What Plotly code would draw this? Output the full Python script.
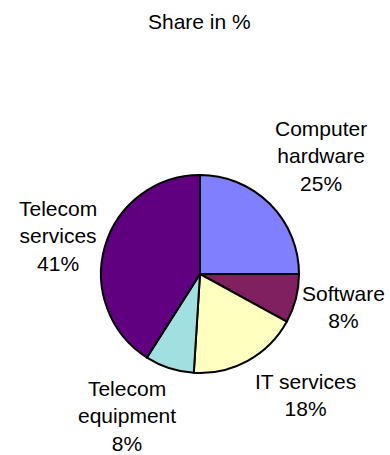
import plotly.graph_objects as go

# Market shares by segment, in percent
categories = ["Computer hardware", "Software", "IT services", "Telecom equipment", "Telecom services"]
label_lines = ["Computer<br>hardware", "Software", "IT services", "Telecom<br>equipment", "Telecom<br>services"]
shares = [25, 8, 18, 8, 41]
colors = ["#8080FF", "#802060", "#FFFFC0", "#A0E0E0", "#600080"]

W, H = 390, 455
FONT = "Arial, Liberation Sans, sans-serif"

# pie geometry in pixels
cx, cy, r = 200, 274, 99

# label block centres in pixels
label_pos = [(321, 156), (343, 307), (305, 395), (127, 416), (58, 236)]


def px(x):
    return x / W


def py(y):
    return 1 - y / H


fig = go.Figure(
    go.Pie(
        labels=categories,
        values=shares,
        sort=False,
        direction="clockwise",
        rotation=0,
        marker=dict(colors=colors, line=dict(color="black", width=2)),
        textinfo="none",
        hoverinfo="label+percent",
        showlegend=False,
        domain=dict(x=[px(cx - r), px(cx + r)], y=[py(cy + r), py(cy - r)]),
    )
)

annotations = [
    dict(
        text="Share in %",
        x=px(200), y=py(21), xref="paper", yref="paper",
        xanchor="center", yanchor="middle", showarrow=False,
        font=dict(family=FONT, size=21, color="black"),
    )
]
for name, val, (lx, ly) in zip(label_lines, shares, label_pos):
    annotations.append(
        dict(
            text=f"{name}<br>{val}%",
            x=px(lx), y=py(ly), xref="paper", yref="paper",
            xanchor="center", yanchor="middle", showarrow=False, align="center",
            font=dict(family=FONT, size=21, color="black"),
        )
    )

fig.update_layout(
    width=W, height=H,
    margin=dict(l=0, r=0, t=0, b=0),
    paper_bgcolor="white", plot_bgcolor="white",
    annotations=annotations,
)

fig.write_html("out.html")
